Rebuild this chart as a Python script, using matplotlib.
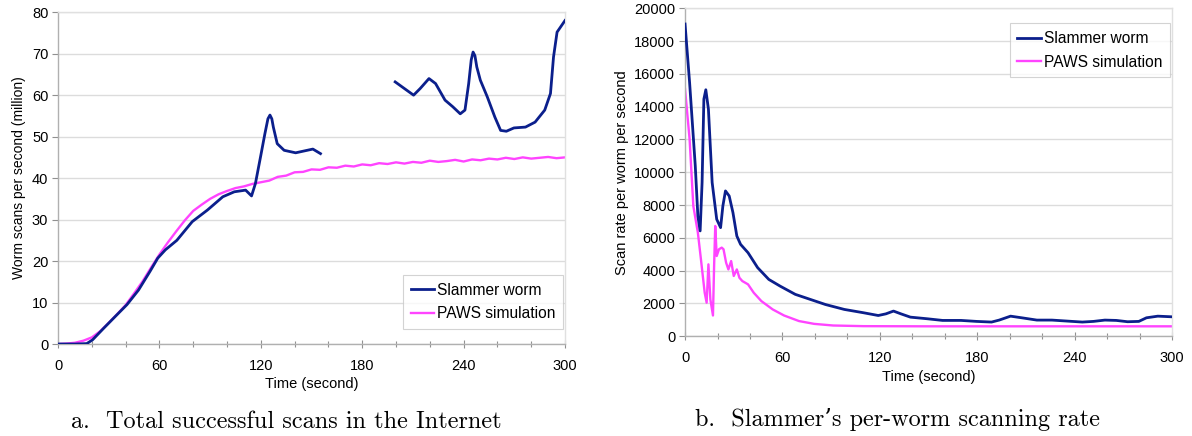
import matplotlib
matplotlib.use("Agg")

import matplotlib.pyplot as plt
from matplotlib.ticker import MultipleLocator

# ---- panel a: total successful scans (million per second)
slam_a1_t = [0, 10, 17, 20.4, 27, 34, 40.8, 47.6, 54.4, 59, 63.5, 70.3, 79.4, 88.4,
             97.5, 104.3, 111, 114.5, 116.8, 120, 122.4, 124.2, 125.4, 126.5, 127.4,
             129.7, 133.8, 140.6, 147.4, 150.8, 155.3]
slam_a1_v = [0, 0, 0.1, 1.0, 3.8, 6.7, 9.5, 13, 17.5, 20.7, 22.7, 25, 29.5, 32.3,
             35.5, 36.7, 37.1, 35.7, 38.7, 45.5, 50.7, 54.3, 55.2, 54.3, 52.3,
             48.3, 46.7, 46.1, 46.7, 47, 45.9]
slam_a2_t = [199.5, 206.3, 210.4, 214.3, 219.5, 223.4, 229, 233.6, 238, 240.8, 243,
             244.5, 245.6, 246.7, 247.8, 249.9, 254, 258.5, 261.9, 265.3, 269.8,
             276.6, 282.3, 288, 291.4, 293.2, 295.3, 300]
slam_a2_v = [63.2, 61.2, 60.0, 61.6, 64, 62.8, 58.8, 57.2, 55.5, 56.4, 62.8,
             68.5, 70.4, 69.5, 66.8, 63.6, 59.6, 54.7, 51.5, 51.3, 52.1,
             52.3, 53.5, 56.4, 60.4, 69.2, 75.2, 78]

paws_a_t = [0, 5, 10, 15, 20, 25, 30, 35, 40, 45, 50, 55, 60, 65, 70, 75, 80, 85,
            90, 95, 100, 105, 110, 115, 120, 125, 130, 135, 140, 145, 150, 155,
            160, 165, 170, 175, 180, 185, 190, 195, 200, 205, 210, 215, 220, 225,
            230, 235, 240, 245, 250, 255, 260, 265, 270, 275, 280, 285, 290, 295, 300]
paws_a_v = [0, 0.1, 0.3, 0.8, 1.6, 3.1, 5.1, 7.2, 9.4, 12.2, 15.1, 18.4, 21.6, 24.5,
            27.2, 29.8, 32.1, 33.6, 35.0, 36.1, 36.9, 37.6, 38.0, 38.6, 39.0, 39.4,
            40.3, 40.6, 41.4, 41.5, 42.1, 42.0, 42.6, 42.5, 43.0, 42.8, 43.3, 43.1,
            43.6, 43.4, 43.8, 43.5, 43.9, 43.7, 44.2, 43.9, 44.1, 44.4, 44.0, 44.5,
            44.3, 44.7, 44.5, 44.9, 44.6, 45.0, 44.7, 44.9, 45.1, 44.8, 45.0]

# ---- panel b: per-worm scan rate
slam_b_t = [0, 2.8, 6.3, 7.9, 9.3, 10.5, 11.6, 12.8, 14.4, 16.7, 19.5, 21.9, 23.3,
            24.9, 27.2, 29.5, 31.9, 34.2, 38.8, 44.7, 51.6, 58.6, 67.9, 77.2, 86.5,
            98.1, 109.8, 119, 123.7, 128.4, 133, 138.8, 149.3, 158.6, 170, 179.5,
            188.8, 193.5, 200.5, 207.4, 216.7, 226, 235.3, 244.7, 251.6, 258.6,
            265.6, 272.6, 279.5, 284.2, 291.2, 300]
slam_b_v = [19040, 15480, 10390, 7330, 6420, 9370, 14460, 15030, 13850, 9370, 7130,
            6620, 7940, 8860, 8550, 7540, 6110, 5600, 5090, 4180, 3460, 3050, 2550,
            2240, 1930, 1630, 1430, 1260, 1360, 1530, 1360, 1160, 1060, 960, 960,
            900, 860, 980, 1220, 1120, 980, 980, 920, 860, 900, 980, 960, 880, 900,
            1120, 1220, 1180]

paws_b_t = [0, 2.8, 5.1, 7.9, 9.8, 12.1, 13.3, 14.4, 15.6, 17.2, 17.9, 18.6, 19.5,
            20.9, 22.6, 23.7, 25.3, 26.7, 28.4, 30, 31.9, 33.5, 35.3, 38.8, 42.3,
            47, 54, 61, 70.2, 79.5, 91.2, 110, 150, 200, 250, 300]
paws_b_v = [15070, 12020, 7940, 6310, 4680, 2650, 2040, 4380, 2240, 1260, 4280,
            6720, 4890, 5300, 5400, 5300, 4480, 4070, 4580, 3670, 4070, 3560, 3360,
            3160, 2650, 2140, 1630, 1260, 920, 750, 650, 610, 600, 600, 600, 600]

NAVY = "#0b1f8c"
MAGENTA = "#ff44ff"
GRID = "#dcdcdc"
SPINE = "#b0b0b0"

plt.rcParams["font.family"] = ["Liberation Sans", "DejaVu Sans"]

fig = plt.figure(figsize=(11.92, 4.36), dpi=100)
ax1 = fig.add_axes([0.0487, 0.211, 0.4253, 0.761])
ax2 = fig.add_axes([0.5747, 0.229, 0.4086, 0.752])


def style(ax, ymax, ystep):
    ax.set_xlim(0, 300)
    ax.set_ylim(0, ymax)
    ax.xaxis.set_major_locator(MultipleLocator(60))
    ax.xaxis.set_minor_locator(MultipleLocator(20))
    ax.yaxis.set_major_locator(MultipleLocator(ystep))
    ax.grid(axis="y", color=GRID, linewidth=1.0)
    ax.set_axisbelow(True)
    for s in ax.spines.values():
        s.set_color(SPINE)
        s.set_linewidth(1.0)
    ax.spines["top"].set_color("#e0e0e0")
    ax.spines["right"].set_color("#e0e0e0")
    ax.tick_params(which="both", direction="inout", color="#909090", labelsize=10.5)
    ax.tick_params(which="major", length=6, width=0.8, pad=8)
    ax.tick_params(which="minor", length=4, width=0.8)
    ax.tick_params(axis="y", which="major", direction="out", length=4, pad=3)
    ax.set_xlabel("Time (second)", fontsize=10.5, labelpad=3)


style(ax1, 80, 10)
ax1.plot(slam_a1_t, slam_a1_v, color=NAVY, linewidth=2.0, label="Slammer worm", zorder=3)
ax1.plot(slam_a2_t, slam_a2_v, color=NAVY, linewidth=2.0, zorder=3)
ax1.plot(paws_a_t, paws_a_v, color=MAGENTA, linewidth=1.7, label="PAWS simulation", zorder=2)
ax1.set_ylabel("Worm scans per second (million)", fontsize=10, labelpad=4)
leg1 = ax1.legend(loc="lower right", bbox_to_anchor=(0.997, 0.045), borderaxespad=0,
                  fontsize=11.2, frameon=True, fancybox=False, edgecolor="#c8c8c8",
                  handlelength=1.5, handletextpad=0.2, borderpad=0.5, labelspacing=0.55)
leg1.get_frame().set_linewidth(0.8)

style(ax2, 20000, 2000)
ax2.plot(slam_b_t, slam_b_v, color=NAVY, linewidth=2.0, label="Slammer worm", zorder=3)
ax2.plot(paws_b_t, paws_b_v, color=MAGENTA, linewidth=1.7, label="PAWS simulation", zorder=2)
ax2.set_ylabel("Scan rate per worm per second", fontsize=10.5, labelpad=4)
leg2 = ax2.legend(loc="upper right", bbox_to_anchor=(0.996, 0.954), borderaxespad=0,
                  fontsize=11.2, frameon=True, fancybox=False, edgecolor="#c8c8c8",
                  handlelength=1.5, handletextpad=0.2, borderpad=0.5, labelspacing=0.55)
leg2.get_frame().set_linewidth(0.8)

fig.text(0.240, 0.032, "a.  Total successful scans in the Internet", ha="center",
         va="center", fontsize=17.5, family=["cmr10", "DejaVu Serif"])
fig.text(0.753, 0.037, "b.  Slammer\u2019s per-worm scanning rate", ha="center",
         va="center", fontsize=17.5, family=["cmr10", "DejaVu Serif"])

fig.savefig("out.png", dpi=100)
